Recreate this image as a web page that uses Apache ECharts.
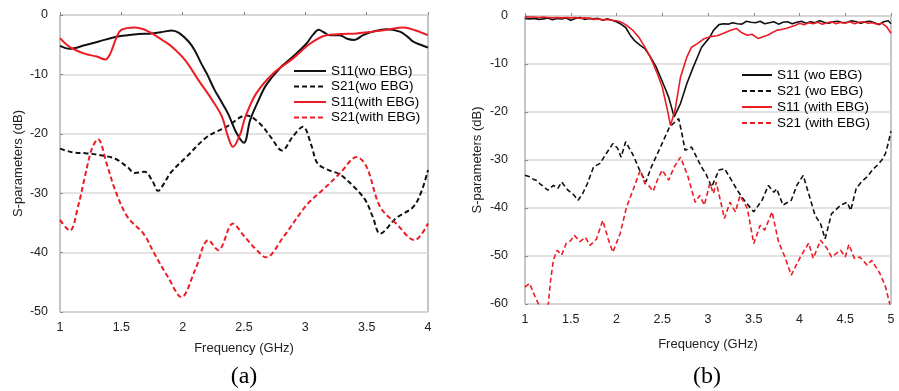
<!DOCTYPE html>
<html>
<head>
<meta charset="utf-8">
<script src="https://cdn.jsdelivr.net/npm/echarts@6/dist/echarts.min.js"></script>
<style>
html, body { margin: 0; padding: 0; background: #fff; }
#main { width: 899px; height: 391px; }
</style>
</head>
<body>
<div id="main"></div>
<script>
// (a) 左图数据 [频率 GHz, dB]
var aS11wo = [[1.0,-5.2],[1.08,-5.7],[1.2,-5.1],[1.31,-4.5],[1.45,-3.7],[1.55,-3.4],[1.64,-3.2],[1.75,-3.1],[1.85,-2.8],[1.91,-2.6],[1.97,-3.0],[2.05,-4.5],[2.1,-6.0],[2.15,-8.1],[2.2,-10.0],[2.26,-12.6],[2.31,-14.4],[2.37,-16.6],[2.44,-19.9],[2.5,-21.5],[2.55,-17.7],[2.62,-14.3],[2.68,-11.8],[2.79,-9.0],[2.9,-7.0],[3.01,-4.8],[3.06,-3.4],[3.11,-2.5],[3.15,-2.9],[3.2,-3.4],[3.28,-3.4],[3.34,-4.0],[3.4,-4.2],[3.47,-3.4],[3.55,-2.8],[3.66,-2.4],[3.77,-2.8],[3.83,-3.6],[3.88,-4.5],[3.95,-5.1],[4.0,-5.5]];
var aS21wo = [[1.0,-22.5],[1.1,-23.1],[1.22,-23.3],[1.33,-23.6],[1.45,-24.2],[1.55,-25.6],[1.61,-26.6],[1.69,-26.4],[1.75,-27.8],[1.8,-29.6],[1.85,-28.3],[1.9,-26.6],[2.03,-23.9],[2.2,-20.5],[2.36,-18.8],[2.52,-16.9],[2.63,-18.3],[2.72,-20.6],[2.81,-22.8],[2.9,-20.4],[2.98,-18.8],[3.05,-22.0],[3.1,-25.0],[3.2,-26.2],[3.28,-26.8],[3.4,-29.0],[3.49,-31.2],[3.55,-34.0],[3.61,-36.8],[3.74,-34.2],[3.88,-32.3],[3.95,-29.5],[4.0,-26.1]];
var aS11with = [[1.0,-3.9],[1.08,-5.4],[1.2,-6.5],[1.3,-7.0],[1.37,-7.5],[1.41,-6.5],[1.46,-3.8],[1.5,-2.5],[1.61,-2.1],[1.68,-2.4],[1.75,-3.1],[1.84,-4.3],[1.91,-5.3],[2.02,-7.6],[2.13,-11.0],[2.24,-14.3],[2.32,-17.1],[2.37,-20.5],[2.41,-22.2],[2.47,-20.0],[2.51,-17.2],[2.6,-13.2],[2.74,-9.8],[2.9,-7.3],[3.04,-4.8],[3.17,-3.4],[3.3,-3.2],[3.42,-3.1],[3.55,-2.8],[3.66,-2.5],[3.8,-2.1],[3.9,-2.6],[4.0,-3.4]];
var aS21with = [[1.0,-34.5],[1.08,-36.3],[1.15,-32.0],[1.2,-27.5],[1.26,-22.5],[1.31,-20.9],[1.38,-25.0],[1.45,-29.5],[1.55,-34.0],[1.68,-36.8],[1.77,-40.2],[1.88,-44.1],[1.99,-47.5],[2.1,-43.0],[2.21,-37.9],[2.29,-39.6],[2.41,-35.1],[2.5,-37.2],[2.6,-39.5],[2.68,-40.8],[2.82,-37.4],[3.01,-32.0],[3.15,-29.3],[3.28,-26.7],[3.42,-23.9],[3.5,-25.6],[3.61,-32.3],[3.74,-35.1],[3.89,-37.9],[4.0,-35.1]];

// (b) 右图数据
var bS11wo = [[1.0,-0.5],[1.05,-0.6],[1.1,-0.5],[1.15,-0.7],[1.2,-0.6],[1.25,-0.4],[1.3,-0.8],[1.35,-0.5],[1.4,-0.6],[1.45,-0.4],[1.5,-0.9],[1.55,-0.5],[1.6,-0.3],[1.65,-0.7],[1.7,-0.5],[1.75,-0.6],[1.8,-0.5],[1.85,-0.9],[1.9,-0.6],[1.95,-0.9],[2.0,-1.2],[2.04,-1.6],[2.1,-2.4],[2.15,-4.0],[2.2,-5.2],[2.26,-6.1],[2.31,-6.8],[2.37,-8.5],[2.43,-10.5],[2.48,-12.7],[2.53,-15.0],[2.57,-16.9],[2.63,-21.0],[2.7,-18.2],[2.77,-14.0],[2.84,-10.6],[2.93,-6.5],[3.02,-4.4],[3.06,-3.0],[3.12,-1.8],[3.17,-1.6],[3.22,-1.7],[3.27,-1.4],[3.32,-1.6],[3.37,-1.7],[3.42,-1.1],[3.47,-1.3],[3.52,-1.4],[3.57,-1.1],[3.62,-1.6],[3.67,-1.4],[3.72,-1.2],[3.77,-1.7],[3.82,-1.3],[3.87,-1.2],[3.92,-1.6],[3.97,-1.3],[4.02,-1.1],[4.07,-1.5],[4.12,-1.2],[4.17,-1.4],[4.22,-1.0],[4.27,-1.3],[4.32,-1.5],[4.37,-1.2],[4.42,-1.1],[4.47,-1.4],[4.52,-1.3],[4.57,-1.0],[4.62,-1.2],[4.67,-1.5],[4.72,-1.2],[4.77,-1.1],[4.82,-1.4],[4.87,-1.8],[4.92,-1.2],[4.97,-1.0],[5.0,-1.6]];
var bS21wo = [[1.0,-33.2],[1.05,-33.5],[1.09,-34.0],[1.13,-34.3],[1.16,-34.9],[1.2,-35.5],[1.25,-36.3],[1.31,-35.3],[1.36,-35.9],[1.4,-34.6],[1.47,-36.3],[1.53,-37.2],[1.58,-38.4],[1.63,-37.0],[1.68,-35.0],[1.75,-31.4],[1.82,-30.7],[1.89,-28.6],[1.96,-26.6],[2.01,-27.5],[2.05,-29.4],[2.1,-26.2],[2.18,-28.9],[2.25,-32.0],[2.32,-34.6],[2.38,-31.5],[2.43,-29.4],[2.5,-26.5],[2.58,-23.1],[2.68,-21.4],[2.72,-25.0],[2.75,-28.0],[2.82,-27.3],[2.93,-31.5],[2.98,-33.0],[3.04,-35.6],[3.12,-32.1],[3.18,-31.8],[3.25,-34.0],[3.32,-36.3],[3.4,-38.5],[3.5,-40.8],[3.59,-38.4],[3.66,-35.3],[3.72,-36.7],[3.75,-36.0],[3.82,-39.4],[3.91,-38.4],[3.97,-35.3],[4.04,-33.2],[4.1,-37.0],[4.17,-41.5],[4.23,-43.3],[4.28,-46.4],[4.35,-41.2],[4.45,-39.4],[4.52,-38.8],[4.56,-40.5],[4.62,-35.9],[4.68,-34.5],[4.74,-33.5],[4.8,-32.0],[4.85,-31.1],[4.9,-30.0],[4.94,-28.6],[4.97,-26.5],[5.0,-24.0]];
var bS11with = [[1.0,-0.1],[1.05,-0.2],[1.1,-0.2],[1.15,-0.3],[1.2,-0.2],[1.25,-0.3],[1.3,-0.4],[1.35,-0.3],[1.4,-0.4],[1.45,-0.3],[1.5,-0.4],[1.55,-0.3],[1.6,-0.5],[1.65,-0.4],[1.7,-0.5],[1.75,-0.7],[1.8,-0.6],[1.85,-0.8],[1.9,-0.7],[1.95,-0.9],[2.0,-1.0],[2.04,-1.2],[2.1,-1.8],[2.18,-3.0],[2.25,-4.6],[2.31,-6.5],[2.36,-8.2],[2.4,-9.9],[2.45,-12.2],[2.5,-14.8],[2.55,-19.0],[2.59,-22.8],[2.64,-19.6],[2.7,-12.7],[2.77,-8.5],[2.82,-6.5],[2.88,-5.8],[2.95,-4.8],[3.02,-4.3],[3.1,-4.1],[3.17,-3.6],[3.24,-3.0],[3.31,-2.6],[3.37,-3.5],[3.43,-4.0],[3.48,-3.8],[3.55,-4.7],[3.6,-4.3],[3.65,-4.0],[3.7,-3.5],[3.75,-3.0],[3.8,-2.8],[3.85,-2.6],[3.9,-2.3],[3.95,-2.0],[4.0,-1.5],[4.05,-1.8],[4.1,-1.4],[4.15,-1.6],[4.2,-1.3],[4.25,-1.7],[4.3,-1.4],[4.35,-1.2],[4.4,-1.6],[4.45,-1.3],[4.5,-1.5],[4.55,-1.2],[4.6,-1.6],[4.65,-1.3],[4.7,-1.2],[4.75,-1.5],[4.8,-1.4],[4.85,-1.7],[4.9,-1.5],[4.95,-2.2],[5.0,-3.6]];
var bS21with = [[1.0,-56.5],[1.05,-55.7],[1.11,-58.5],[1.16,-60.5],[1.2,-62.0],[1.25,-61.0],[1.28,-55.0],[1.31,-50.9],[1.35,-48.8],[1.4,-49.8],[1.45,-47.4],[1.5,-46.8],[1.54,-45.7],[1.6,-47.0],[1.66,-46.1],[1.71,-47.8],[1.78,-46.5],[1.85,-42.6],[1.91,-46.5],[1.96,-49.2],[2.04,-45.3],[2.11,-39.8],[2.18,-36.3],[2.26,-32.1],[2.31,-34.9],[2.36,-35.5],[2.4,-36.5],[2.45,-34.0],[2.5,-32.1],[2.57,-34.2],[2.63,-31.5],[2.7,-29.4],[2.78,-33.4],[2.86,-38.8],[2.91,-37.4],[2.96,-39.4],[3.02,-34.9],[3.06,-37.0],[3.09,-34.6],[3.18,-42.2],[3.24,-38.8],[3.3,-40.8],[3.35,-37.4],[3.43,-40.1],[3.5,-47.4],[3.57,-43.6],[3.62,-44.6],[3.7,-40.8],[3.77,-47.0],[3.84,-50.2],[3.91,-54.0],[4.01,-50.2],[4.1,-47.3],[4.15,-50.5],[4.23,-46.7],[4.3,-48.4],[4.35,-50.2],[4.45,-48.8],[4.5,-50.2],[4.54,-47.6],[4.6,-50.5],[4.66,-50.2],[4.74,-51.9],[4.79,-50.9],[4.88,-53.7],[4.94,-56.4],[5.0,-61.0]];

var aNames = ['S11(wo EBG)', 'S21(wo EBG)', 'S11(with EBG)', 'S21(with EBG)'];
var bNames = ['S11 (wo EBG)', 'S21 (wo EBG)', 'S11 (with EBG)', 'S21 (with EBG)'];

var BLACK = '#111';
var RED = '#ec1c24';
var FONT = 'Liberation Sans, Arial, sans-serif';

function xAxis(idx, max, nameGap) {
	return {
		type : 'value', gridIndex : idx, min : 1, max : max, interval : 0.5,
		name : 'Frequency (GHz)', nameLocation : 'middle', nameGap : nameGap,
		nameTextStyle : { fontFamily : FONT, fontSize : 13, color : '#222' },
		axisLine : { show : false },
		axisTick : { inside : true, length : 3, lineStyle : { color : '#888' } },
		axisLabel : { fontFamily : FONT, fontSize : 12.5, color : '#222', margin : 9 },
		splitLine : { show : false }
	};
}
function yAxis(idx, min, nameGap, margin) {
	return {
		type : 'value', gridIndex : idx, min : min, max : 0, interval : 10,
		name : 'S-parameters (dB)', nameLocation : 'middle', nameGap : nameGap,
		nameTextStyle : { fontFamily : FONT, fontSize : 13, color : '#222' },
		axisLine : { show : false },
		axisTick : { inside : true, length : 3, lineStyle : { color : '#888' } },
		axisLabel : { fontFamily : FONT, fontSize : 12.5, color : '#222', margin : margin },
		splitLine : { show : true, lineStyle : { color : '#dadada', width : 1.5 } }
	};
}
function line(name, idx, data, color, dashed, width, smooth) {
	return {
		name : name, type : 'line', xAxisIndex : idx, yAxisIndex : idx,
		data : data, symbol : 'none', smooth : smooth, clip : true,
		lineStyle : { color : color, width : width, type : dashed ? [5, 3] : 'solid' },
		itemStyle : { color : color }
	};
}
function legend(names, left, top, w, gap) {
	return {
		data : names, orient : 'vertical', left : left, top : top, padding : 0,
		itemWidth : w, itemHeight : 14, itemGap : gap, selectedMode : false,
		itemStyle : { opacity : 0 },
		textStyle : { fontFamily : FONT, fontSize : 13.5, color : '#000' }
	};
}

var myChart = echarts.init(document.getElementById('main'));
var option = {
	animation : false,
	backgroundColor : '#fff',
	grid : [
		{ left : 60, right : 471, top : 15, bottom : 79, show : true, borderColor : '#8c8c8c', borderWidth : 1 },
		{ left : 525, right : 8, top : 16, bottom : 87, show : true, borderColor : '#8c8c8c', borderWidth : 1 }
	],
	xAxis : [ xAxis(0, 4, 30), xAxis(1, 5, 34) ],
	yAxis : [ yAxis(0, -50, 35, 12), yAxis(1, -60, 41, 17) ],
	legend : [ legend(aNames, 293, 64, 32, 1.5), legend(bNames, 741, 68, 30, 2) ],
	series : [
		line(aNames[0], 0, aS11wo, BLACK, false, 2, 0.35),
		line(aNames[1], 0, aS21wo, BLACK, true, 2, 0.35),
		line(aNames[2], 0, aS11with, RED, false, 2, 0.35),
		line(aNames[3], 0, aS21with, RED, true, 2, 0.35),
		line(bNames[0], 1, bS11wo, BLACK, false, 1.6, false),
		line(bNames[1], 1, bS21wo, BLACK, true, 1.6, false),
		line(bNames[2], 1, bS11with, RED, false, 1.6, false),
		line(bNames[3], 1, bS21with, RED, true, 1.6, false)
	],
	graphic : [
		{ type : 'text', x : 244, y : 377, style : { text : '(a)', fontFamily : 'Liberation Serif, Times New Roman, serif', fontSize : 24, fill : '#000', textAlign : 'center', textVerticalAlign : 'middle' } },
		{ type : 'text', x : 707, y : 377, style : { text : '(b)', fontFamily : 'Liberation Serif, Times New Roman, serif', fontSize : 24, fill : '#000', textAlign : 'center', textVerticalAlign : 'middle' } }
	]
};
myChart.setOption(option);
</script>
</body>
</html>
